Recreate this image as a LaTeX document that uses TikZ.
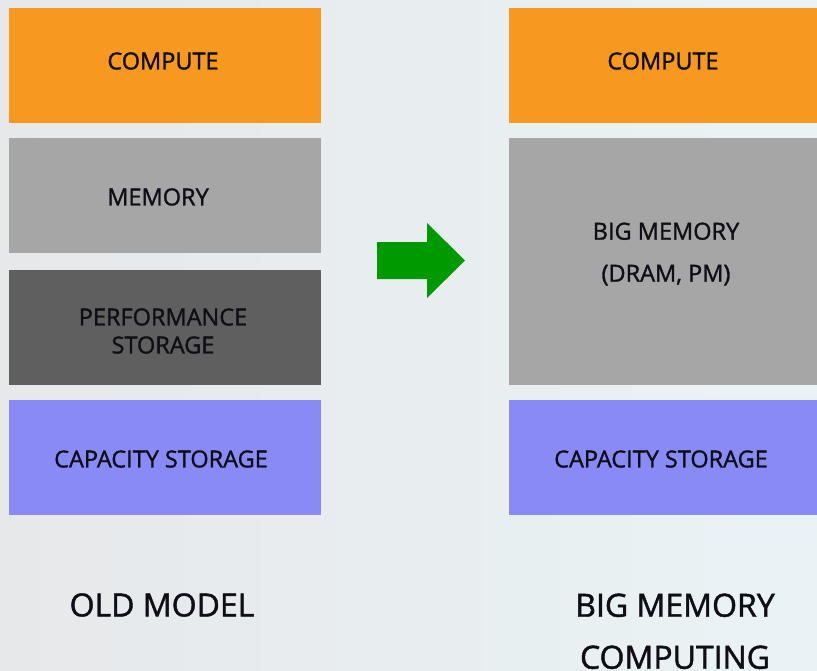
\documentclass[tikz,border=0pt]{standalone}
\usepackage{fontspec}
\setmainfont{Open Sans}
\newfontfamily\boxfont{Open Sans}[FakeBold=1.3]
\definecolor{bgl}{HTML}{E7E8EA}
\definecolor{bgr}{HTML}{E9F3F5}
\definecolor{corange}{HTML}{F8991F}
\definecolor{cmem}{HTML}{A6A6A6}
\definecolor{cperf}{HTML}{5F5F5F}
\definecolor{ccap}{HTML}{8A8AF6}
\definecolor{cgreen}{HTML}{009900}
\definecolor{ctext}{HTML}{0E0E16}
\tikzset{
  blockbox/.style={rectangle, inner sep=0pt},
  boxtext/.style={text=ctext, align=center, inner sep=0pt,
    font=\boxfont\fontsize{23.5}{28}\selectfont},
  biglabel/.style={text=ctext, align=center, font=\boxfont\fontsize{32}{52}\selectfont}
}
\begin{document}
\begin{tikzpicture}[x=1pt,y=-1pt]
\useasboundingbox (0,0) rectangle (817,670);
\clip (0,0) rectangle (817,670);
\shade[left color=bgl, right color=bgr] (0,0) rectangle (817,670);
% left column
\node[blockbox, fill=corange, minimum width=312, minimum height=115] (lc) at (165,65.5) {};
\node[blockbox, fill=cmem, minimum width=312, minimum height=115] (lm) at (165,195.5) {};
\node[blockbox, fill=cperf, minimum width=312, minimum height=115] (lp) at (165,327.5) {};
\node[blockbox, fill=ccap, minimum width=312, minimum height=115] (lcap) at (165,457.5) {};
\node[boxtext] (tlc) at (163,61) {COMPUTE};
\node[boxtext] (tlm) at (158,197) {MEMORY};
\node[boxtext] (tlp) at (163,331) {PERFORMANCE\\STORAGE};
\node[boxtext] (tlcap) at (161,459) {CAPACITY STORAGE};
% right column
\node[blockbox, fill=corange, minimum width=308, minimum height=115] (rc) at (663,65.5) {};
\node[blockbox, fill=cmem, minimum width=308, minimum height=247] (rm) at (663,261.5) {};
\node[blockbox, fill=ccap, minimum width=308, minimum height=115] (rcap) at (663,457.5) {};
\node[boxtext] (trc) at (663,61) {COMPUTE};
\node[boxtext, font=\boxfont\fontsize{23.5}{42}\selectfont] (trm) at (666,254) {BIG MEMORY\\(DRAM, PM)};
\node[boxtext] (trcap) at (661,459) {CAPACITY STORAGE};
% arrow
\fill[cgreen] (377,242) -- (427,242) -- (427,223) -- (465,260.5) -- (427,298) -- (427,279) -- (377,279) -- cycle;
% labels
\node[biglabel] (lold) at (162,605) {OLD MODEL};
\node[biglabel, anchor=north] (lbig) at (675,590) {BIG MEMORY\\COMPUTING};
\end{tikzpicture}
\end{document}
